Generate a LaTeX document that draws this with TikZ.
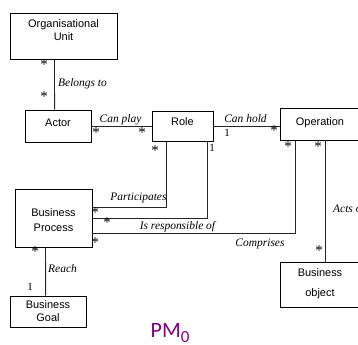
\documentclass[tikz,border=0pt]{standalone}
\usepackage{fontspec}
\setmainfont{Liberation Serif}
\setsansfont{Liberation Sans}
\newfontfamily\pmfont{Carlito}
\definecolor{pmpurple}{RGB}{128,0,128}

\begin{document}
\begin{tikzpicture}[x=1bp,y=-1bp,
  box/.style={draw,line width=0.8bp,inner sep=0pt,align=center,
    font=\sffamily\fontsize{11}{13}\selectfont},
  rel/.style={inner sep=0pt,anchor=base,font=\itshape\fontsize{11.5}{12}\selectfont},
  mult/.style={inner sep=0pt,font=\fontsize{11}{12}\selectfont},
  star/.style={inner sep=0pt,font=\fontsize{15}{15}\selectfont},
  link/.style={line width=0.8bp,black!85}]

%%% frame of the picture
\useasboundingbox (0,0) rectangle (358,345);

% Organisational Unit
\node[box,minimum width=107bp,minimum height=46bp,text height=8bp,text depth=0bp] (ou) at (63.5,36) {Organisational\\Unit};

% Actor, Role, Operation
\node[box,minimum width=66bp,minimum height=32bp,text height=5bp,text depth=5bp] (actor) at (58,126) {Actor};
\node[box,minimum width=61bp,minimum height=30bp,text height=4bp,text depth=6bp] (role) at (182.5,126) {Role};
\node[box,minimum width=80bp,minimum height=32bp,text height=5bp,text depth=3bp] (op) at (320,124) {Operation};

% Business Process, Goal, object
\node[box,minimum width=77bp,minimum height=58bp,text height=26bp,text depth=0bp] (bp) at (53.5,218) {Business\\[2bp]Process};
\node[box,minimum width=76bp,minimum height=31bp,text height=19bp,text depth=0bp] (bg) at (48,311.5) {Business\\Goal};
\node[box,minimum width=80bp,minimum height=45bp,text height=23bp,text depth=0bp] (bo) at (320,284.5) {Business\\[7bp]object};

%% Connectors
\draw[link] ([xshift=45bp]ou.south west) -- ([xshift=30bp]actor.north west);
\draw[link] (actor.east) -- (role.west);
\draw[link] (role.east) -- (role.east -| op.west);
\draw[link] ([xshift=15bp]role.south west) |- ([yshift=11bp]bp.east);
\draw[link] ([xshift=-6bp]role.south east) |- (bp.east);
\draw[link] ([xshift=16bp]op.south west) |- ([yshift=-15bp]bp.east);
\draw[link] ([xshift=46bp]op.south west) -- ([xshift=46bp]bo.north west);
\draw[link] ([xshift=31bp]bp.south west) -- ([xshift=36bp]bg.north west);

%% Association names
\node[rel,anchor=base west] (belongs) at (58,86.5) {Belongs to};
\node[rel] (canplay) at (120.5,122) {Can play};
\node[rel] (canhold) at (245.5,122.5) {Can hold};
\node[rel] (particip) at (138.5,200.5) {Participates};
\node[rel] (resp) at (177.5,229.5) {Is responsible of};
\node[rel] (compr) at (260,246.5) {Comprises};
\node[rel,anchor=base west] (acts) at (333,212.5) {Acts on};
\node[rel,anchor=base west] (reach) at (48,272.5) {Reach};

%% Multiplicities
\node[star] (m-ou) at (44,65) {*};
\node[star] (m-actor-ou) at (44,97) {*};
\node[star] (m-actor-role) at (96,133) {*};
\node[star] (m-role-actor) at (142,133) {*};
\node[star] (m-role-bp) at (155,151) {*};
\node[mult] (m-role-bp2) at (212,148) {1};
\node[mult] (m-role-op) at (227,133) {1};
\node[star] (m-op-role) at (274,131) {*};
\node[star] (m-op-bp) at (288,147) {*};
\node[star] (m-op-bo) at (318,147) {*};
\node[star] (m-bo-op) at (319,251) {*};
\node[star] (m-bp-role) at (95,213) {*};
\node[star] (m-bp-role2) at (107,223) {*};
\node[star] (m-bp-op) at (95,243) {*};
\node[star] (m-bp-bg) at (35,252) {*};
\node[mult] (m-bg-bp) at (30,287) {1};

% title
\node[anchor=base west,inner sep=0pt,text=pmpurple,font=\pmfont\fontsize{22}{22}\selectfont] (pm) at (150.5,337) {PM\raisebox{-5bp}{\fontsize{17}{17}\selectfont 0}};

\end{tikzpicture}
\end{document}
